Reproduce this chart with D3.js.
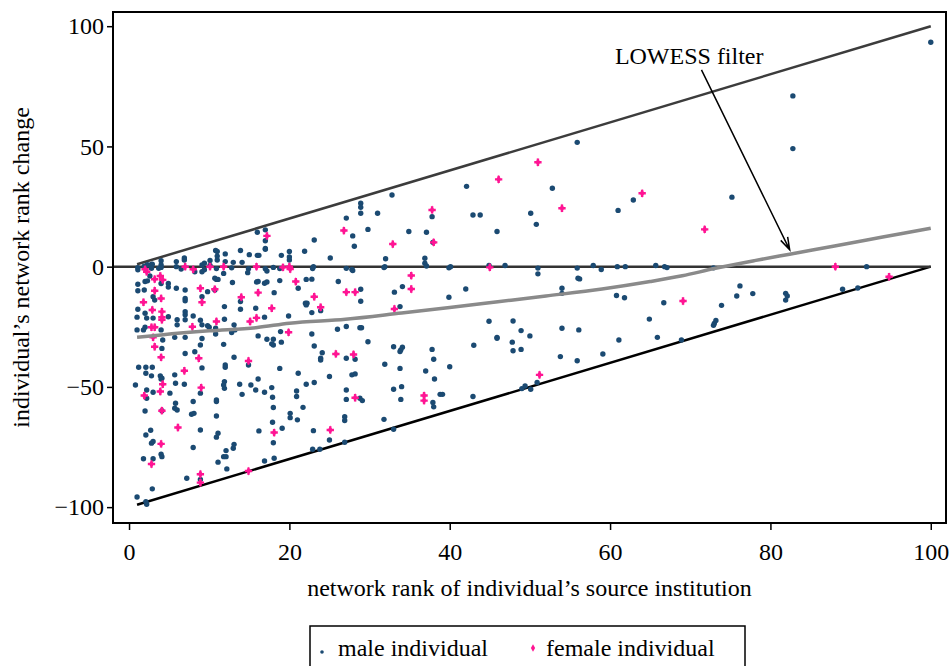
<!DOCTYPE html>
<html>
<head>
<meta charset="utf-8">
<script src="https://cdn.jsdelivr.net/npm/d3@7"></script>
<style>
    body { margin: 0; background: #fff; }
    svg text { font-family: "Liberation Serif", "Times New Roman", serif; fill: #000; }
</style>
</head>
<body>
<svg id="chart" width="950" height="666"></svg>
<script>
"use strict";

/** male individuals: [source rank, rank change] */
const malePoints = [
    // above the zero line
    [17.0,15.3],[16.0,14.3],[17.0,10.8],[17.0,7.6],[17.0,7.2],[16.0,4.7],[16.2,4.7],[10.8,6.7],[11.0,6.3],[12.0,5.3],
    [13.9,6.7],[15.0,5.0],[6.9,3.6],[6.9,2.8],[5.9,2.1],[4.0,2.5],[2.9,1.0],[2.3,0.8],[9.4,1.4],[10.1,2.6],
    [11.0,2.8],[11.0,4.4],[12.0,2.1],[13.0,1.8],[14.1,1.8],[19.0,4.7],[20.0,6.3],[20.0,4.0],[20.0,2.8],[21.9,6.4],
    [23.1,11.1],[25.1,3.6],[27.1,20.2],[27.9,12.8],[28.1,8.5],[28.9,26.4],[28.9,24.7],[28.9,22.2],[29.8,15.5],[31.0,22.2],
    [32.8,29.8],[32.0,3.3],[34.9,14.6],[37.1,14.3],[36.9,3.5],[36.9,1.4],[37.9,10.1],[37.8,20.8],[42.1,33.4],[42.9,21.5],
    [43.8,21.5],[45.9,14.6],[50.1,22.2],[50.8,17.6],[52.8,32.6],[55.9,51.7],[61.0,23.4],[62.9,27.7],[75.2,28.9],[82.8,49.1],
    [82.8,71.0],[100,93.3],
    // on the zero line
    [1.1,-0.4],[1.1,-1.3],[1.9,0.2],[2.8,0.9],[2.8,-0.7],[3.7,-0.7],[4.0,0.7],[4.0,-0.3],[5.9,0],[6.5,-1.0],
    [9.1,0.7],[9.1,-2.1],[9.4,-1.3],[10.1,0.5],[8.2,-2.1],[10.9,-0.8],[12.8,-0.5],[14.9,-0.9],[17.0,-0.9],[17.2,-1.8],
    [18.0,-0.3],[18.8,-0.8],[23.0,0],[22.9,-0.8],[27.1,-0.7],[27.8,-1.2],[27.9,-1.6],[31.9,0],[31.8,-0.4],[37.1,0.3],
    [39.9,-0.5],[40.1,0],[44.9,0.5],[46.9,0.5],[51.0,-0.6],[51.0,-3.0],[55.9,-0.6],[56.0,-4.8],[57.9,0.5],[58.9,-1.2],
    [60.9,0],[61.9,0],[65.7,0.5],[66.8,0],[67.1,-0.4],[72.9,-0.5],[92.0,0],
    // ranks 0 - 11, below zero
    [2.6,-3.9],[1.1,-7.3],[2.0,-6.2],[2.3,-5.9],[1.1,-10],[1.9,-9.7],[4.0,-7.0],[4.9,-7.0],[4.9,-8.5],[5.9,-9.0],
    [7.0,-9.7],[3.0,-12.5],[3.2,-13.9],[7.0,-13.2],[7.0,-14.2],[9.8,-10.4],[9.1,-12.5],[10.7,-9.7],[10.7,-4.8],[1.1,-17.7],
    [2.0,-19.4],[1.0,-21.0],[2.2,-21.4],[3.0,-21.4],[4.9,-20.8],[7.0,-18.7],[7.0,-20.0],[7.0,-22.1],[6.0,-22.1],[6.0,-24.2],
    [8.0,-20.5],[8.9,-22.3],[9.1,-24.2],[9.8,-24.6],[10.0,-25.2],[1.0,-26.3],[1.8,-26.3],[2.0,-25.2],[4.2,-30.5],[4.0,-26.3],
    [5.7,-29.4],[7.0,-29.4],[9.1,-29.9],[8.9,-32.6],[4.1,-34.0],[8.2,-35.4],[7.0,-36.1],[1.2,-41.8],[2.1,-41.8],[2.9,-41.8],
    [3.9,-45.4],[4.1,-46.4],[5.7,-45.0],[9.1,-42.1],[2.1,-44.3],[2.8,-45.4],
    [0.8,-49.2],[2.2,-51.3],[2.2,-54.7],[3.0,-52.2],[4.0,-46.7],[5.1,-52.6],[5.8,-48.5],[6.9,-48.9],[8.9,-52.6],[8.0,-56.1],
    [5.8,-56.8],[5.7,-58.9],[6.0,-59.6],[4.1,-59.9],[2.0,-60],[7.8,-61.4],[8.1,-61],[8.9,-67.9],[2.7,-68],[2.1,-70],
    [2.8,-73.4],[3.0,-72.7],[8.0,-75.2],[4.0,-78.0],[4.1,-79.0],[1.8,-79.9],[3.0,-79.9],[7.2,-88],[8.9,-88.5],[2.9,-92.4],
    [1.0,-95.8],[2.1,-97.7],[2.2,-98.8],
    // ranks 10 - 23, below zero
    [11.8,-2.8],[14.8,-2.5],[10.9,-5.3],[11.1,-5.3],[12.9,-6.6],[15.9,-6.4],[16.1,-6.2],[16.9,-6.9],[17.2,-6.4],[18.8,-5.8],
    [21.1,-9.0],[22.1,-5.3],[18.1,-10.8],[13.9,-14.5],[13.9,-17.7],[11.9,-16.6],[15.8,-17.3],[22.0,-15.2],[22.2,-15.2],[19.9,-20.5],
    [11.9,-21.9],[16.9,-21],[13.1,-24.2],[13.2,-26.3],[10.8,-25.6],[10.8,-28],[12.8,-27.4],[18.9,-27],[16.1,-28.8],[17.2,-30.2],
    [18.0,-30.2],[18.0,-32.6],[17.8,-32.1],[19.0,-31.4],[11.8,-32.3],[13.1,-37.7],[12.0,-40.9],[12.0,-41.8],[14.9,-40.9],[18.8,-42.3],
    [21.1,-44.3],[11.9,-47.8],[11.8,-49.2],[11.9,-50.6],[13.8,-48.9],[16.1,-46.7],[15.2,-49.2],[15.8,-51.3],[16.9,-52.2],[17.8,-50.3],
    [17.9,-54.3],[14.1,-53.1],[20.9,-51.7],[20.9,-54.0],[22.1,-48.9],[10.9,-55.4],[10.9,-56.1],[18.0,-58.6],[21.7,-58.5],[10.9,-62.1],
    [20.1,-61],[20.1,-62.8],[21.0,-63.7],[17.9,-64.7],[19.1,-67.2],[16.2,-68.3],[11.1,-69.3],[10.9,-70.9],[18.0,-73.2],[13.1,-73.9],
    [13.0,-75.5],[12.1,-76.5],[11.8,-79.0],[12.1,-79.0],[11.1,-81.3],[18.1,-79.7],[16.9,-80.8],[12.2,-84.1],
    // ranks 21 - 37, below zero
    [22.8,-5.2],[26.1,-6.2],[34.1,-8.3],[33.1,-10.6],[28.9,-9.4],[28.9,-14.4],[22.1,-15.9],[23.9,-18.3],[22.8,-19.1],[33.8,-16.6],
    [22.8,-28],[26.0,-26],[27.1,-24.9],[28.8,-25.4],[29.0,-25.4],[29.8,-31.2],[23.1,-33],[24.1,-35.8],[23.9,-38.1],[23.9,-38.8],
    [27.1,-38.1],[28.2,-38.5],[33.0,-33.3],[34.1,-33.5],[33.9,-34.6],[33.8,-35.3],[31.9,-40.6],[33.8,-42.3],[37.0,-43.4],[27.8,-45],
    [28.2,-44.6],[25.0,-45.7],[23.1,-48.2],[27.1,-51.3],[33.0,-51.0],[34.0,-49.9],[27.1,-55.2],[28.8,-54.7],[29.1,-55.7],[33.9,-55.2],
    [26.9,-62.4],[26.9,-64],[31.8,-63.5],[33.0,-67.6],[23.0,-68.2],[25.0,-72.1],[26.9,-73.0],[22.9,-75.9],[23.8,-75.9],
    // ranks 37 - 70, below zero
    [42.0,-9.3],[54.0,-9.0],[54.0,-11.1],[56.2,-5.1],[39.9,-12.7],[60.8,-12.0],[61.8,-12.9],[66.7,-15.0],[44.9,-22.7],[47.9,-22.6],
    [48.9,-26.6],[45.9,-29.4],[45.9,-29.8],[50.0,-28.8],[54.0,-25.6],[56.1,-26.3],[64.9,-21.8],[65.9,-29.4],[68.9,-30.5],[61.1,-30.5],
    [47.8,-31.4],[47.9,-35.0],[43.0,-32.7],[48.9,-34.4],[37.8,-34.4],[38.0,-38.5],[53.8,-37.4],[55.9,-39.1],[59.1,-36.3],[40.0,-41.6],
    [38.1,-46.7],[50.9,-48.2],[38.8,-53.1],[39.1,-53.1],[42.9,-54.0],[49.0,-50.7],[49.4,-49.6],[50.1,-51],[37.9,-56.5],[38.0,-58.3],
    // ranks 70 - 100, below zero
    [89.0,-9.4],[90.9,-8.9],[81.9,-11.1],[82.1,-12.2],[81.9,-13.9],[77.8,-11.2],[76.2,-8],[75.8,-12.2],[73.9,-16.1],[73.2,-22.4],
    [73.0,-23.6],[72.9,-24.4]
];

/** female individuals: [source rank, rank change] */
const femalePoints = [
    [17.2,12.8],[26.8,15.0],[32.9,9.4],[46.1,36.3],[51.0,43.4],[64.0,30.5],[37.8,23.6],[54.0,24.3],[38.0,10.1],[71.8,15.5],
    [2.0,-1.1],[2.2,-2.1],[7.0,0],[8.0,-1.1],[10.1,0],[11.8,0],[15.9,0],[19.2,-0.3],[20.0,0],[20.1,-1],
    [45.0,-0.3],[88.1,0],[94.8,-4.2],
    [3.9,-3.9],[3.2,-5.2],[4.2,-5.5],[3.2,-10],[4.0,-13.2],[1.8,-14.8],[9.1,-14.8],[8.9,-9.0],[2.9,-18],[4.1,-18.7],
    [4.1,-21],[4.1,-22.1],[7.9,-25],[2.8,-25.2],[3.2,-25.2],[3.0,-29.4],[3.2,-33.3],[4.0,-37.7],[8.7,-38.1],[6.9,-43.3],
    [1.9,-53.6],[3.9,-51.9],[4.2,-48.9],[9.0,-50.3],[4.1,-59.9],[6.1,-66.9],[4.0,-73.7],[2.8,-82.1],[8.9,-86.3],[8.9,-89.8],
    [20.8,-6.2],[10.7,-9.4],[16.1,-10.8],[14.0,-12.7],[17.8,-17.3],[15.9,-21.3],[15.1,-22.8],[10.9,-22.8],[19.9,-27.3],[14.9,-39.2],
    [18.1,-69],[14.9,-85],
    [35.2,-3.7],[35.2,-9.3],[27.1,-10.6],[28.2,-10.6],[23.1,-12.5],[23.9,-16.9],[33.1,-17.6],[25.8,-36.3],[28.0,-36.5],
    [36.8,-53.6],[36.8,-55.7],[28.2,-54.5],[25.1,-67.9],[69.1,-14.3],[51.2,-45]
];

/** LOWESS smoother */
const lowessRank   = [1, 4, 10, 16, 20, 27, 34, 40, 46, 52, 59, 65, 69, 73, 78, 82.4, 88, 94, 100];
const lowessChange = [-29.4, -28.4, -26.7, -25.3, -23.5, -21.9, -19.3, -17.0, -14.6, -12.2, -9.3, -6.2, -3.8, -0.8, 2.5, 5.2, 8.6, 12.3, 16.0];

/** axis ticks */
const xTicks = [0, 20, 40, 60, 80, 100];
const yTicks = [-100, -50, 0, 50, 100];

const scatterChart = {
    SVG: d3.select("#chart"),
    /** plot frame in pixels */
    frame: { left: 113, right: 946, top: 12, bottom: 523 },
    colors: { male: "#1b4a72", female: "#ff1493", lowess: "#8a8a8a" },
    render: () => {
        const svg = scatterChart.SVG;
        const f = scatterChart.frame;
        const x = d3.scaleLinear().domain([-2, 101.9]).range([f.left, f.right]);
        const y = d3.scaleLinear().domain([-106.6, 105.9]).range([f.bottom, f.top]);
        const line = d3.line().x(d => x(d[0])).y(d => y(d[1]));

        // x axis
        svg.append("g")
            .attr("transform", "translate(0," + f.bottom + ")")
            .call(d3.axisBottom(x).tickValues(xTicks).tickSize(7).tickPadding(13))
            .call(g => g.select(".domain").remove())
            .call(g => g.selectAll("line").attr("stroke", "#000").attr("stroke-width", 1.5))
            .call(g => g.selectAll("text").style("font-size", "24px"));
        // y axis
        svg.append("g")
            .attr("transform", "translate(" + f.left + ",0)")
            .call(d3.axisLeft(y).tickValues(yTicks).tickSize(6).tickPadding(3))
            .call(g => g.select(".domain").remove())
            .call(g => g.selectAll("line").attr("stroke", "#000").attr("stroke-width", 1.5))
            .call(g => g.selectAll("text").style("font-size", "24px"));

        // bounds: max gain (y = x), max loss (y = x - 100), no change
        svg.append("path").attr("d", line([[1, 1], [100, 100]]))
            .attr("stroke", "#3c3c3c").attr("stroke-width", 2.5).attr("fill", "none");
        svg.append("path").attr("d", line([[1, -99], [100, 0]]))
            .attr("stroke", "#000").attr("stroke-width", 2.5).attr("fill", "none");
        svg.append("path").attr("d", line([[-2, 0], [100, 0]]))
            .attr("stroke", "#333").attr("stroke-width", 2.5).attr("fill", "none");

        // points
        svg.append("g").selectAll("circle")
            .data(malePoints)
            .enter()
            .append("circle")
            .attr("cx", d => x(d[0]))
            .attr("cy", d => y(d[1]))
            .attr("r", 2.7)
            .style("fill", scatterChart.colors.male);
        // female marker: fat plus over a small diamond
        const marker = d3.symbol().type(d3.symbolCross).size(30)() + d3.symbol().type(d3.symbolDiamond).size(22)();
        svg.append("g").selectAll("path")
            .data(femalePoints)
            .enter()
            .append("path")
            .attr("d", marker)
            .attr("transform", d => "translate(" + x(d[0]) + "," + y(d[1]) + ")")
            .style("fill", scatterChart.colors.female);

        // LOWESS curve
        svg.append("path")
            .attr("d", d3.line().curve(d3.curveMonotoneX).x(d => x(d[0])).y(d => y(d[1]))(
                lowessRank.map((r, i) => [r, lowessChange[i]])))
            .attr("stroke", scatterChart.colors.lowess).attr("stroke-width", 3.5).attr("fill", "none");

        // frame
        svg.append("rect")
            .attr("x", f.left).attr("y", f.top)
            .attr("width", f.right - f.left).attr("height", f.bottom - f.top)
            .attr("fill", "none").attr("stroke", "#000").attr("stroke-width", 2);

        // annotation
        svg.append("text").attr("x", x(60.6)).attr("y", y(84.3))
            .style("font-size", "24px").text("LOWESS filter");
        const a0 = [x(71.4), y(81.8)], a1 = [x(82.4), y(7.0)];
        const ang = Math.atan2(a1[1] - a0[1], a1[0] - a0[0]);
        const head = s => [a1[0] - 13 * Math.cos(ang + s), a1[1] - 13 * Math.sin(ang + s)];
        svg.append("path")
            .attr("d", "M" + a0 + "L" + a1 + "M" + head(0.3) + "L" + a1 + "L" + head(-0.3))
            .attr("stroke", "#000").attr("stroke-width", 1.5).attr("fill", "none");

        // axis titles
        svg.append("text")
            .attr("x", (f.left + f.right) / 2).attr("y", 596)
            .attr("text-anchor", "middle").style("font-size", "24px")
            .text("network rank of individual’s source institution");
        svg.append("text")
            .attr("transform", "translate(29," + (f.top + f.bottom) / 2 + ") rotate(-90)")
            .attr("text-anchor", "middle").style("font-size", "24px")
            .text("individual’s network rank change");

        // legend
        const legend = svg.append("g");
        legend.append("rect").attr("x", 310).attr("y", 626).attr("width", 435).attr("height", 60)
            .attr("fill", "none").attr("stroke", "#000").attr("stroke-width", 1.5);
        legend.append("circle").attr("cx", 322).attr("cy", 652).attr("r", 1.8)
            .style("fill", scatterChart.colors.male);
        legend.append("text").attr("x", 338).attr("y", 656).style("font-size", "24px").text("male individual");
        legend.append("path").attr("d", d3.symbol().type(d3.symbolDiamond).size(16))
            .attr("transform", "translate(533,648)").style("fill", scatterChart.colors.female);
        legend.append("text").attr("x", 546).attr("y", 656).style("font-size", "24px").text("female individual");
    }
};

scatterChart.render();
</script>
</body>
</html>
